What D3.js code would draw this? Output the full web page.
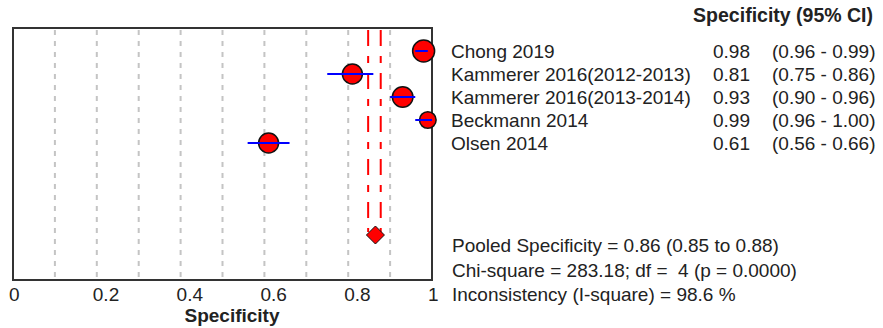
<!DOCTYPE html>
<html lang="en">
<head>
<meta charset="UTF-8">
<title>Specificity forest plot</title>
<style>
  * { margin: 0; padding: 0; }
  body { background: #fff; width: 883px; height: 328px; overflow: hidden; }
  svg { display: block; font-family: Arial, 'Liberation Sans', sans-serif; }
  .grid { stroke: #c4c4c4; stroke-width: 2; stroke-dasharray: 5,6; }
  .pool { stroke: #ff0000; stroke-width: 2; stroke-dasharray: 16,10,7,10; }
  .ci { stroke: #0000ff; stroke-width: 2; }
  .txt { font-size: 19px; fill: #222; white-space: pre; }
</style>
</head>
<body>
<svg width="883" height="328"></svg>
<script src="https://cdn.jsdelivr.net/npm/d3@7/dist/d3.min.js"></script>
<script>
// Study data
const studies = ['Chong 2019', 'Kammerer 2016(2012-2013)', 'Kammerer 2016(2013-2014)', 'Beckmann 2014', 'Olsen 2014'];
const spec = [0.98, 0.81, 0.93, 0.99, 0.61];
const ciLow = [0.96, 0.75, 0.90, 0.96, 0.56];
const ciHigh = [0.99, 0.86, 0.96, 1.00, 0.66];
const weights = [121, 100, 106, 69, 100];

// Pooled estimate (marker position)
const pooled = { est: 0.865, low: 0.85, high: 0.88 };
const statsLines = [
  'Pooled Specificity = 0.86 (0.85 to 0.88)',
  'Chi-square = 283.18; df =  4 (p = 0.0000)',
  'Inconsistency (I-square) = 98.6 %'
];
const xTicks = [0, 0.2, 0.4, 0.6, 0.8, 1];
const gridTicks = [0.1, 0.2, 0.3, 0.4, 0.5, 0.6, 0.7, 0.8, 0.9];

const svg = d3.select('svg');
const plot = { left: 13, right: 432, top: 28, bottom: 280 };

const x = d3.scaleLinear().domain([0, 1]).range([plot.left, plot.right]);
// study rows
const y = d3.scaleLinear().domain([0, 1]).range([51, 74]);
const r = d3.scaleSqrt().domain([0, d3.max(weights)]).range([0, 11]);
const pooledY = 235;

// gridlines
svg.append('g').selectAll('line')
  .data(gridTicks)
  .join('line')
  .attr('class', 'grid')
  .attr('x1', d => x(d)).attr('x2', d => x(d))
  .attr('y1', plot.top + 2).attr('y2', plot.bottom - 1);

// pooled CI lines
svg.append('g').selectAll('line')
  .data([pooled.low, pooled.high])
  .join('line')
  .attr('class', 'pool')
  .attr('x1', d => x(d) - 1).attr('x2', d => x(d) - 1)
  .attr('y1', plot.top + 2).attr('y2', pooledY - 3);

// frame
svg.append('rect')
  .attr('x', plot.left).attr('y', plot.top)
  .attr('width', plot.right - plot.left).attr('height', plot.bottom - plot.top)
  .attr('fill', 'none').attr('stroke', '#333').attr('stroke-width', 2);

// study markers
const rows = svg.append('g').selectAll('g')
  .data(studies.map((s, i) => ({ s, i })))
  .join('g');

rows.append('circle')
  .attr('cx', d => x(spec[d.i]))
  .attr('cy', d => y(d.i))
  .attr('r', d => r(weights[d.i]))
  .attr('fill', '#ff0000')
  .attr('stroke', '#111')
  .attr('stroke-width', 1.5);

rows.append('line')
  .attr('class', 'ci')
  .attr('x1', d => x(ciLow[d.i])).attr('x2', d => x(ciHigh[d.i]))
  .attr('y1', d => y(d.i)).attr('y2', d => y(d.i));

// pooled diamond
const cx = x(pooled.est);
svg.append('path')
  .attr('d', `M${cx},${pooledY - 9} L${cx + 9},${pooledY} L${cx},${pooledY + 9} L${cx - 9},${pooledY} Z`)
  .attr('fill', '#ff0000')
  .attr('stroke', '#111')
  .attr('stroke-width', 1);

// x axis labels
svg.append('g').selectAll('text')
  .data(xTicks)
  .join('text')
  .attr('class', 'txt')
  .attr('x', d => x(d) - 4)
  .attr('y', 301)
  .text(d => d === 0 || d === 1 ? d : d.toFixed(1));

svg.append('text')
  .attr('class', 'txt')
  .attr('x', 232).attr('y', 322)
  .attr('text-anchor', 'middle')
  .attr('font-weight', 'bold')
  .text('Specificity');

// right-hand table
svg.append('text')
  .attr('class', 'txt')
  .attr('x', 873).attr('y', 22)
  .attr('text-anchor', 'end')
  .attr('font-weight', 'bold')
  .style('font-size', '19.5px')
  .text('Specificity (95% CI)');

rows.append('text')
  .attr('class', 'txt')
  .attr('x', 451).attr('y', d => y(d.i) + 6.5)
  .text(d => d.s);

rows.append('text')
  .attr('class', 'txt')
  .attr('x', 713).attr('y', d => y(d.i) + 6.5)
  .text(d => spec[d.i].toFixed(2));

rows.append('text')
  .attr('class', 'txt')
  .attr('x', 772).attr('y', d => y(d.i) + 6.5)
  .text(d => `(${ciLow[d.i].toFixed(2)} - ${ciHigh[d.i].toFixed(2)})`);

svg.append('g').selectAll('text')
  .data(statsLines)
  .join('text')
  .attr('class', 'txt')
  .attr('x', 452)
  .attr('y', (d, i) => 252 + i * 24.5)
  .text(d => d);
</script>
</body>
</html>
